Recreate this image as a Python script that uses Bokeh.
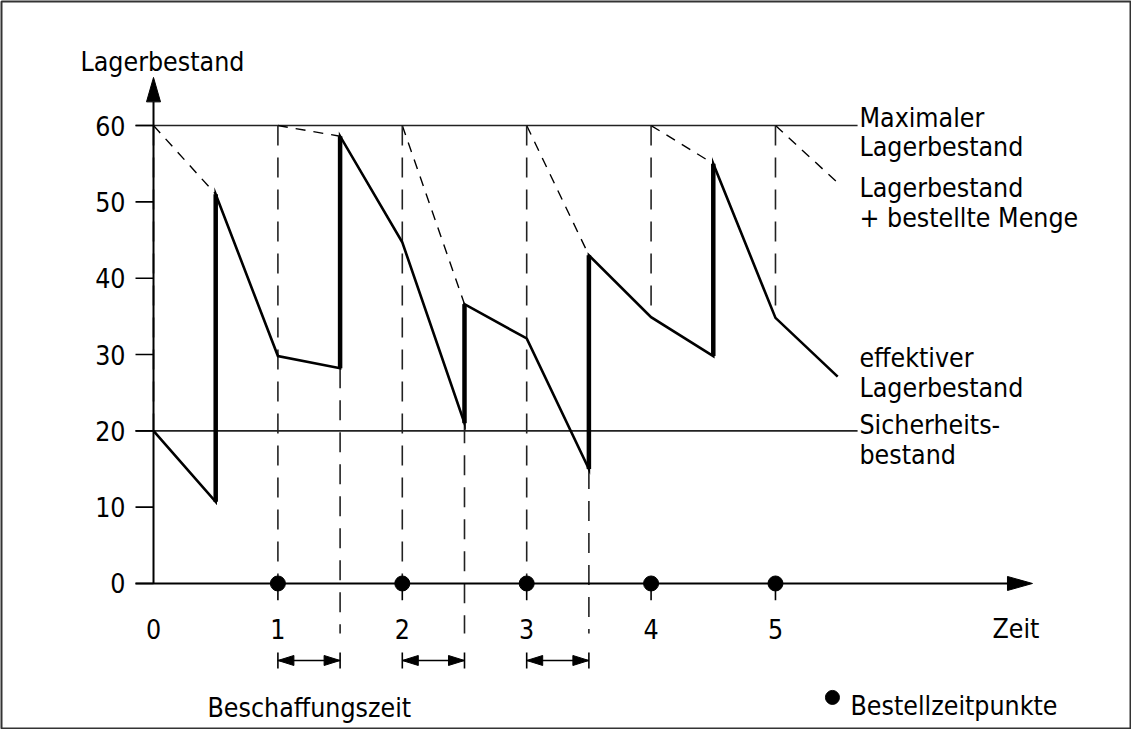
from bokeh.plotting import figure
from bokeh.models import Range1d
from bokeh.core.properties import value
from bokeh.embed import file_html
from bokeh.resources import INLINE

# ---------------- data ----------------
y_ticks = [0, 10, 20, 30, 40, 50, 60]
x_ticks = [0, 1, 2, 3, 4, 5]
max_stock = 60
safety_stock = 20
start_time = 0
start_stock = 20
order_times = [1, 2, 3, 4, 5]
stock_at_order = [29.8, 44.7, 32.1, 34.9, 34.8]
delivery_times = [0.5, 1.5, 2.5, 3.5, 4.5]
stock_before_delivery = [10.7, 28.2, 21.0, 15.0, 29.8]
stock_after_delivery = [51.0, 58.6, 36.6, 43.0, 55.0]
end_time = 5.5
end_stock = 27.1
end_position = 52.5
lead_time_orders = [1, 2, 3]
lead_time = 0.5
right_labels = ["Maximaler", "Lagerbestand", "Lagerbestand", "+ bestellte Menge",
                "effektiver", "Lagerbestand", "Sicherheits-", "bestand"]
right_label_y = [61.0, 57.2, 51.9, 48.0, 29.6, 25.7, 20.8, 16.9]

# ---------------- geometry / style ----------------
FONT = "DejaVu Sans Condensed"
FS = "26.5px"
PX_X = 124.4   # px per time unit
PX_Y = 7.633   # px per stock unit

p = figure(width=1131, height=729, output_backend="svg", toolbar_location=None,
           x_range=Range1d(-1.222, 7.854), y_range=Range1d(-19.0, 76.25),
           min_border_left=1, min_border_right=1, min_border_top=1, min_border_bottom=1)
p.xaxis.visible = False
p.yaxis.visible = False
p.xgrid.visible = False
p.ygrid.visible = False
p.outline_line_color = "#333333"
p.outline_line_width = 2
p.background_fill_color = "white"
p.border_fill_color = "white"

tick_len = 18 / PX_X
line_right = 5.66

# reference lines (max and safety stock)
p.segment(x0=[-tick_len, -tick_len], y0=[max_stock, safety_stock],
          x1=[line_right, line_right], y1=[max_stock, safety_stock],
          line_color="#222222", line_width=1.6)

# inventory position (stock + ordered) dashed
pos_x0 = [start_time] + order_times
pos_x1 = delivery_times + [end_time]
pos_y1 = stock_after_delivery + [end_position]
p.segment(x0=pos_x0, y0=[max_stock] * len(pos_x0), x1=pos_x1, y1=pos_y1,
          line_color="black", line_width=1.4, line_dash="10 8")

# vertical long-dash helper lines
below = -6.55
vx, vy0, vy1 = [], [], []
vx.append(start_time); vy0.append(max_stock); vy1.append(start_stock)
for t, s in zip(order_times, stock_at_order):
    vx.append(t); vy0.append(max_stock)
    vy1.append(0 if t in lead_time_orders else s)
for t, s in zip(delivery_times, stock_before_delivery):
    if (t - lead_time) in lead_time_orders:
        vx.append(t); vy0.append(s); vy1.append(below)
p.segment(x0=vx, y0=vy0, x1=vx, y1=vy1, line_color="#222222", line_width=1.6,
          line_dash="20 12")

# effective stock line
ex, ey = [start_time], [start_stock]
for d, b, a, o, so in zip(delivery_times, stock_before_delivery, stock_after_delivery,
                          order_times, stock_at_order):
    ex += [d, d, o]
    ey += [b, a, so]
ex.append(end_time); ey.append(end_stock)
p.line(ex, ey, line_color="black", line_width=2.6, line_join="miter")
p.segment(x0=delivery_times, y0=stock_before_delivery, x1=delivery_times,
          y1=stock_after_delivery, line_color="black", line_width=4.5)

# axes
y_arrow_base = 63.1
y_arrow_tip = 66.3
x_arrow_base = 6.865
x_arrow_tip = 7.066
p.segment(x0=[0, -tick_len], y0=[0, 0], x1=[0, x_arrow_base], y1=[y_arrow_base, 0],
          line_color="black", line_width=2)
hw_x = 7 / PX_X
hw_y = 7 / PX_Y
p.patches(xs=[[-hw_x, hw_x, 0], [x_arrow_base, x_arrow_base, x_arrow_tip]],
          ys=[[y_arrow_base, y_arrow_base, y_arrow_tip], [-hw_y, hw_y, 0]],
          fill_color="black", line_color="black", line_width=1)

# y ticks
p.segment(x0=[-tick_len] * len(y_ticks), y0=y_ticks, x1=[0] * len(y_ticks), y1=y_ticks,
          line_color="black", line_width=1.6)
# small x ticks below axis at order times
p.segment(x0=order_times, y0=[0] * 5, x1=order_times, y1=[-2.2] * 5,
          line_color="black", line_width=1.6)

# order points
p.scatter(order_times, [0] * len(order_times), size=15, marker="circle",
          fill_color="black", line_color="black")

# lead time arrows
arr_y = -10.09
bar_h = 8 / PX_Y
head_l = 16 / PX_X
head_hw = 5 / PX_Y
ax0 = lead_time_orders
ax1 = [t + lead_time for t in lead_time_orders]
p.segment(x0=ax0, y0=[arr_y] * 3, x1=ax1, y1=[arr_y] * 3, line_color="black", line_width=1.6)
p.segment(x0=ax0 + ax1, y0=[arr_y - bar_h] * 6, x1=ax0 + ax1, y1=[arr_y + bar_h] * 6,
          line_color="black", line_width=1.6)
hx, hy = [], []
for a, b in zip(ax0, ax1):
    hx.append([a, a + head_l, a + head_l]); hy.append([arr_y, arr_y + head_hw, arr_y - head_hw])
    hx.append([b, b - head_l, b - head_l]); hy.append([arr_y, arr_y + head_hw, arr_y - head_hw])
p.patches(xs=hx, ys=hy, fill_color="black", line_color="black", line_width=1)

# texts
tf = value(FONT)
p.text(x=[-0.225] * len(y_ticks), y=y_ticks, text=[str(v) for v in y_ticks],
       text_font=tf, text_font_size=value(FS), text_align="right", text_baseline="middle",
       text_color="black")
p.text(x=x_ticks, y=[-5.95] * len(x_ticks), text=[str(v) for v in x_ticks],
       text_font=tf, text_font_size=value(FS), text_align="center",
       text_baseline="alphabetic", text_color="black")
p.text(x=[6.744], y=[-5.95], text=["Zeit"], text_font=tf, text_font_size=value(FS),
       text_align="left", text_baseline="alphabetic", text_color="black")
p.text(x=[-0.587], y=[68.4], text=["Lagerbestand"], text_font=tf, text_font_size=value(FS),
       text_align="left", text_baseline="alphabetic", text_color="black")
p.text(x=[5.675] * len(right_labels), y=right_label_y, text=right_labels, text_font=tf,
       text_font_size=value(FS), text_align="left", text_baseline="alphabetic",
       text_color="black")
p.text(x=[0.434], y=[-16.25], text=["Beschaffungszeit"], text_font=tf,
       text_font_size=value(FS), text_align="left", text_baseline="alphabetic",
       text_color="black")
p.scatter([5.458], [-14.93], size=14, marker="circle", fill_color="black", line_color="black")
p.text(x=[5.603], y=[-15.98], text=["Bestellzeitpunkte"], text_font=tf,
       text_font_size=value(FS), text_align="left", text_baseline="alphabetic",
       text_color="black")

open("out.html", "w").write(file_html(p, INLINE))
